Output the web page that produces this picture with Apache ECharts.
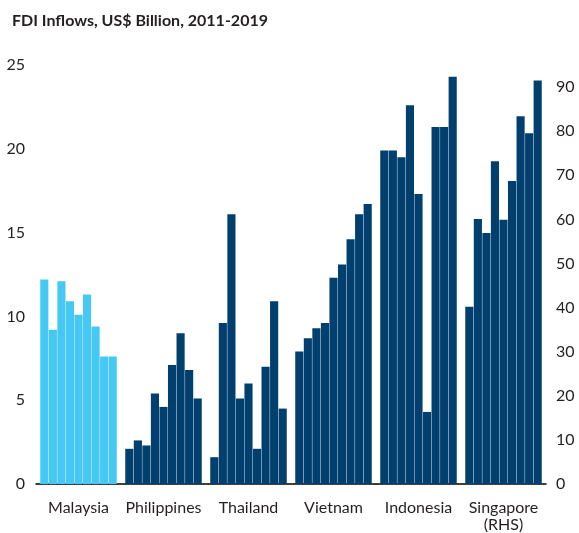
<!DOCTYPE html>
<html><head><meta charset="utf-8">
<script src="https://cdn.jsdelivr.net/npm/echarts@6/dist/echarts.min.js"></script>
<style>html,body{margin:0;padding:0;background:#fff}#c{width:579px;height:533px}</style>
</head><body><div id="c"></div>
<script>
const countries = ['Malaysia', 'Philippines', 'Thailand', 'Vietnam', 'Indonesia', 'Singapore\n(RHS)'];
const years = ['2011', '2012', '2013', '2014', '2015', '2016', '2017', '2018', '2019'];
const malaysia = [12.2, 9.2, 12.1, 10.9, 10.1, 11.3, 9.4, 7.6, 7.6];
const philippines = [2.1, 2.6, 2.3, 5.4, 4.6, 7.1, 9.0, 6.8, 5.1];
const thailand = [1.6, 9.6, 16.1, 5.1, 6.0, 2.1, 7.0, 10.9, 4.5];
const vietnam = [7.9, 8.7, 9.3, 9.6, 12.3, 13.1, 14.6, 16.1, 16.7];
const indonesia = [19.9, 19.9, 19.5, 22.6, 17.3, 4.3, 21.3, 21.3, 24.3];
const singapore = [40.2, 60.1, 56.9, 73.2, 59.9, 68.7, 83.4, 79.5, 91.5];
const leftAxis = {min: 0, max: 25, interval: 5};
const rightAxis = {min: 0, max: 95, interval: 10};

const LIGHT = '#46C8F5', NAVY = '#003F6E', TXT = '#231F20', FONT = 'Lato, "Open Sans", sans-serif';
const colorFn = p => p.dataIndex === 0 ? LIGHT : NAVY;
const series = [];
years.forEach((y, i) => {
  series.push({
    name: y, type: 'bar', xAxisIndex: 0, yAxisIndex: 0,
    barGap: '5%', barCategoryGap: '10%',
    itemStyle: {color: colorFn},
    data: [malaysia[i], philippines[i], thailand[i], vietnam[i], indonesia[i], '-']
  });
});
years.forEach((y, i) => {
  series.push({
    name: y + ' RHS', type: 'bar', xAxisIndex: 1, yAxisIndex: 1,
    barGap: '5%', barCategoryGap: '10%',
    itemStyle: {color: NAVY},
    data: ['-', '-', '-', '-', '-', singapore[i]]
  });
});

const chart = echarts.init(document.getElementById('c'), null, {renderer: 'canvas'});
chart.setOption({
  animation: false,
  backgroundColor: '#fff',
  textStyle: {fontFamily: FONT},
  title: {text: 'FDI Inflows, US$ Billion, 2011-2019', left: 7, top: 8,
    textStyle: {fontFamily: FONT, fontSize: 16, fontWeight: 'bold', color: TXT}},
  grid: {left: 36, right: 33, top: 65, bottom: 48, containLabel: false},
  xAxis: [
    {type: 'category', data: countries, gridIndex: 0,
      axisLine: {show: true, lineStyle: {color: '#000', width: 1.5}},
      axisTick: {show: false},
      axisLabel: {color: TXT, fontSize: 16, lineHeight: 17, margin: 15, fontFamily: FONT, interval: 0}},
    {type: 'category', data: countries, gridIndex: 0, show: false}
  ],
  yAxis: [
    {type: 'value', min: leftAxis.min, max: leftAxis.max, interval: leftAxis.interval,
      splitLine: {show: false}, axisLine: {show: false}, axisTick: {show: false},
      axisLabel: {color: TXT, fontSize: 16, margin: 11, fontFamily: FONT}},
    {type: 'value', min: rightAxis.min, max: rightAxis.max, interval: rightAxis.interval,
      position: 'right',
      splitLine: {show: false}, axisLine: {show: false}, axisTick: {show: false},
      axisLabel: {color: TXT, fontSize: 16, margin: 10, fontFamily: FONT, showMaxLabel: false}}
  ],
  series: series
});
</script>
</body></html>
